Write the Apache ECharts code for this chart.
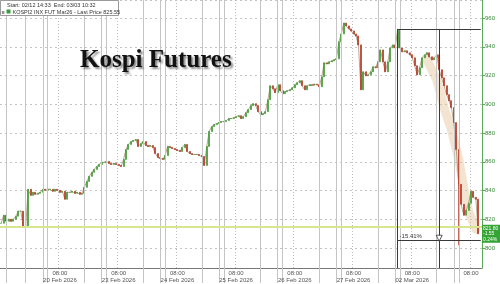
<!DOCTYPE html>
<html><head><meta charset="utf-8">
<script src="https://cdn.jsdelivr.net/npm/echarts@6/dist/echarts.min.js"></script>
<style>html,body{margin:0;padding:0;background:#fff}#c{width:500px;height:284px}</style>
</head><body><div id="c"></div>
<script>
// ---- data ----
const DAY_LABELS = ['20 Feb 2026','23 Feb 2026','24 Feb 2026','25 Feb 2026','26 Feb 2026','27 Feb 2026','02 Mar 2026',''];
const SLOTS_PER_DAY = 24;
const SLOT_COUNT = 197;
const CLOSE = [
817.3,822.9,818.7,820.1,818.7,820.1,822.2,825.7,825.7,815.3,
814.6,840.9,836.7,838.8,837.4,838.1,838.8,840.9,840.2,840.9,
840.9,839.5,840.9,840.2,838.8,839.5,834.0,838.8,838.8,839.5,
838.1,838.8,837.4,838.1,842.3,846.4,849.9,852.7,854.7,856.8,
858.2,859.6,859.6,860.3,858.9,858.2,858.9,858.2,857.5,856.8,
861.7,868.6,872.1,874.1,874.8,875.5,870.7,872.7,874.1,871.4,
870.7,871.4,870.0,865.8,863.0,862.4,861.7,864.4,870.7,870.0,
869.3,868.6,867.9,867.2,870.0,872.1,867.2,865.8,865.1,865.1,
865.1,864.4,863.7,857.5,870.7,881.1,884.5,885.9,886.6,887.3,
888.0,888.0,888.7,890.1,890.1,890.7,891.4,892.1,890.1,891.4,
894.2,896.3,899.1,900.4,899.1,894.9,892.8,893.5,894.9,903.2,
912.9,910.8,908.1,913.6,909.4,907.4,908.8,909.4,910.1,911.5,
913.6,915.0,916.4,912.9,910.1,912.9,913.6,913.2,914.0,913.6,
912.2,919.1,928.8,928.1,929.5,930.2,930.9,931.6,943.4,948.9,
956.5,954.5,952.4,951.0,948.9,947.5,941.3,910.1,922.6,919.8,
920.5,922.6,926.1,925.4,929.5,937.8,929.5,922.6,929.5,939.2,
941.3,939.2,951.5,939.2,936.5,937.2,935.8,934.4,932.3,926.8,
920.5,925.4,932.3,934.4,935.8,933.0,930.9,932.3,934.4,924.0,
918.4,912.9,906.7,902.5,897.7,887.3,868.6,844.4,830.5,822.9,
826.3,831.2,839.5,835.3,834.0,810.0
];
const WICK_LOWS = {187: 802.0};
const SESSION_BREAKS = [2,10,17,19,34,41,43,58,65,67,82,89,91,106,113,115,130,137,139,154,161,163,178,185,187];
const REF_LEVEL = 814.6;
const MEASURE_HIGH = 952.4, MEASURE_LOW = 805.6;
const MEASURE_START = 162, MEASURE_LOW_IDX = 179, MEASURE_END = 196;
const MEASURE_TEXT = '-15.41%';
const BAND = [[174,930.9],[178,917.1],[181,897.7],[184,882.4],[187,861.7],[189,842.3],[191,825.7],[194,813.2]];
const PRICE_TAG = ['821.80','-1.55','0.24%'];
const TITLE = 'Kospi Futures';
const HEADER1 = 'Start: 02/12 14:33  End: 03/03 10:32';
const HEADER2 = 'KOSPI2 INX FUT Mar26 - Last Price 825.55';

// ---- build ----
const categories = [];
for (let i = 0; i < SLOT_COUNT; i++) categories.push(String(i));
const candles = CLOSE.map((c, i) => {
  const o = i === 0 ? c : CLOSE[i - 1];
  let lo = Math.min(o, c), hi = Math.max(o, c);
  if (WICK_LOWS[i] !== undefined) lo = WICK_LOWS[i];
  return [o, c, lo, hi];
});

const chart = echarts.init(document.getElementById('c'), null, {renderer: 'canvas'});
const sepLines = SESSION_BREAKS.map(i => ({xAxis: i}));
const mline = {color: '#3a3a3a', width: 1, type: 'solid'};

chart.setOption({
  animation: false,
  backgroundColor: '#fff',
  grid: {left: 0, right: 18, top: 0, bottom: 15, containLabel: false},
  xAxis: {
    type: 'category', data: categories, boundaryGap: true,
    axisLine: {show: true, lineStyle: {color: '#777', width: 1}},
    axisTick: {show: true, alignWithLabel: true, length: 15,
      interval: (i) => SESSION_BREAKS.includes(i), lineStyle: {color: '#c4c4c4'}},
    axisLabel: {
      interval: (i) => i > 0 && i % SLOTS_PER_DAY === 0,
      formatter: (v, i) => { const k = Math.round(i / SLOTS_PER_DAY); const d = DAY_LABELS[k - 1]; return d ? '08:00\n' + d : '08:00'; },
      fontSize: 6, color: '#555', lineHeight: 7, margin: 2, fontFamily: 'Liberation Sans'
    },
    splitLine: {show: true, interval: (i) => i > 0 && i % SLOTS_PER_DAY === 0,
      lineStyle: {type: [1, 2], color: '#bdbdbd'}}
  },
  yAxis: {
    type: 'value', position: 'right', min: 786.2, max: 972.5, splitNumber: 9, minInterval: 20, maxInterval: 20,
    axisLine: {show: true, lineStyle: {color: '#5aa85a'}},
    axisTick: {show: true, length: 3, lineStyle: {color: '#5aa85a'}},
    axisLabel: {color: '#3a8a3a', fontSize: 6, margin: 3, showMinLabel: false, showMaxLabel: false, fontFamily: 'Liberation Sans'},
    splitLine: {show: true, lineStyle: {type: [2, 3], color: '#c4c4c4'}}
  },
  series: [
    {
      type: 'line', name: 'band', data: BAND, symbol: 'none', z: 1, silent: true,
      lineStyle: {width: 9, color: 'rgba(226,196,150,0.45)', cap: 'round', join: 'round'},
      markLine: {
        silent: true, symbol: 'none', label: {show: false},
        data: sepLines.map(d => Object.assign({}, d, {lineStyle: {color: '#c4c4c4', width: 1, type: 'solid'}}))
          .concat([{yAxis: REF_LEVEL, lineStyle: {color: '#d9e58e', width: 2, type: 'solid'}}])
      }
    },
    {
      type: 'line', name: 'path', data: CLOSE, symbol: 'none', z: 2, silent: true,
      lineStyle: {width: 0.8, color: 'rgba(140,110,70,0.75)'}
    },
    {
      type: 'candlestick', name: 'price', data: candles, z: 3, barWidth: 1.5,
      itemStyle: {color: '#4a9e3f', color0: '#b8402f', borderColor: '#4a9e3f', borderColor0: '#b8402f', borderWidth: 0.8},
      markLine: {
        silent: true, symbol: 'none', animation: false,
        label: {show: false},
        data: [
          [{coord: [MEASURE_START, MEASURE_HIGH], lineStyle: mline}, {coord: [MEASURE_END, MEASURE_HIGH]}],
          [{coord: [MEASURE_START, MEASURE_HIGH], lineStyle: mline}, {coord: [MEASURE_START, 786.2]}],
          [{coord: [MEASURE_LOW_IDX, MEASURE_HIGH], lineStyle: mline}, {coord: [MEASURE_LOW_IDX, 786.2]}],
          [{coord: [MEASURE_START, MEASURE_LOW], lineStyle: mline,
            label: {show: true, position: 'insideStartTop', formatter: MEASURE_TEXT, fontSize: 6, color: '#333', distance: [2, 1], fontFamily: 'Liberation Sans'}},
           {coord: [MEASURE_END, MEASURE_LOW]}]
        ]
      },
      markPoint: {
        silent: true, animation: false,
        data: [{coord: [MEASURE_LOW_IDX, MEASURE_LOW + 1.3], symbol: 'triangle', symbolRotate: 180, symbolSize: 6,
          itemStyle: {color: '#fff', borderColor: '#333', borderWidth: 0.8}, label: {show: false}}]
      }
    }
  ]
});

// annotations positioned through the chart's scales
const lastPt = chart.convertToPixel({seriesIndex: 2}, [CLOSE.length - 1, CLOSE[CLOSE.length - 1]]);
const boxTop = lastPt[1] - 9;
chart.setOption({
  graphic: [
    {type: 'text', left: 80, top: 48, z: 20,
      style: {text: TITLE, font: 'bold 25px "Liberation Serif"', fill: '#111',
        textShadowColor: 'rgba(0,0,0,0.45)', textShadowBlur: 2, textShadowOffsetX: 2, textShadowOffsetY: 2}},
    {type: 'rect', shape: {x: 0.5, y: 0.5, width: 118, height: 15}, z: 20,
      style: {fill: '#fff', stroke: '#9a9a9a', lineWidth: 1}},
    {type: 'text', x: 7, y: 2.5, z: 21, style: {text: HEADER1, font: '5.5px "Liberation Sans"', fill: '#333'}},
    {type: 'text', x: 1.5, y: 9, z: 21, style: {text: '≡', font: '5.5px "Liberation Sans"', fill: '#333'}},
    {type: 'rect', shape: {x: 6.5, y: 9.5, width: 4, height: 4}, z: 21, style: {fill: '#3a9a3a'}},
    {type: 'text', x: 12.5, y: 9, z: 21, style: {text: HEADER2, font: '5.5px "Liberation Sans"', fill: '#333'}},
    {type: 'rect', shape: {x: 482, y: boxTop, width: 18, height: 18}, z: 20, style: {fill: '#34a434'}},
    {type: 'text', x: 483, y: boxTop + 0.5, z: 21,
      style: {text: PRICE_TAG.join('\n'), font: '5px "Liberation Sans"', fill: '#fff', lineHeight: 5.8, align: 'left'}}
  ]
});
</script>
</body></html>
